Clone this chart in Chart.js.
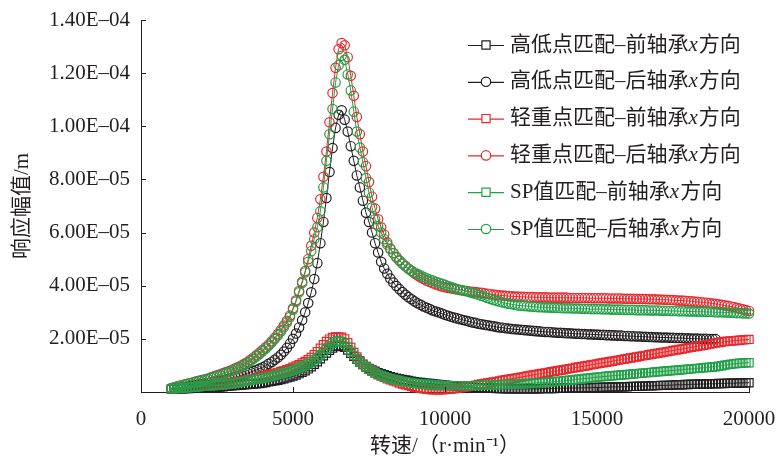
<!DOCTYPE html>
<html><head><meta charset="utf-8">
<script src="https://cdn.jsdelivr.net/npm/chart.js@4"></script>
<style>html,body{margin:0;padding:0;background:#fff;} canvas{display:block;}</style>
</head><body>
<div style="width:782px;height:461px"><canvas id="c" width="782" height="461"></canvas></div>
<script>
// rotating speed, r/min
const speeds = [
 1000,1100,1200,1300,1400,1500,1600,1700,1800,1900,
 2000,2100,2200,2300,2400,2500,2600,2700,2800,2900,
 3000,3100,3200,3300,3400,3500,3600,3700,3800,3900,
 4000,4100,4200,4300,4400,4500,4600,4700,4800,4900,
 5000,5100,5200,5300,5400,5500,5600,5700,5800,5900,
 6000,6100,6200,6300,6400,6500,6600,6700,6800,6900,
 7000,7100,7200,7300,7400,7500,7600,7700,7800,7900,
 8000,8100,8200,8300,8400,8500,8600,8700,8800,8900,
 9000,9100,9200,9300,9400,9500,9600,9700,9800,9900,
 10000,10100,10200,10300,10400,10500,10600,10700,10800,10900,
 11000,11100,11200,11300,11400,11500,11600,11700,11800,11900,
 12000,12100,12200,12300,12400,12500,12600,12700,12800,12900,
 13000,13100,13200,13300,13400,13500,13600,13700,13800,13900,
 14000,14100,14200,14300,14400,14500,14600,14700,14800,14900,
 15000,15100,15200,15300,15400,15500,15600,15700,15800,15900,
 16000,16100,16200,16300,16400,16500,16600,16700,16800,16900,
 17000,17100,17200,17300,17400,17500,17600,17700,17800,17900,
 18000,18100,18200,18300,18400,18500,18600,18700,18800,18900,
 19000,19100,19200,19300,19400,19500,19600,19700,19800,19900,
 20000];

// response amplitudes in micrometres (1e-6 m)
// 高低点匹配-前轴承x方向
const hlFront = [
 1.0,1.1,1.1,1.2,1.2,1.3,1.3,1.4,1.4,1.5,
 1.5,1.6,1.6,1.7,1.7,1.8,1.9,2.0,2.1,2.2,
 2.3,2.4,2.5,2.6,2.7,2.8,2.9,3.0,3.1,3.2,
 3.4,3.6,3.8,4.0,4.2,4.4,4.7,5.0,5.3,5.6,
 6.0,6.4,6.9,7.4,8.0,8.7,9.5,10.4,11.4,12.5,
 13.6,14.7,15.7,16.5,17.1,17.4,17.3,16.8,15.8,14.6,
 13.4,12.3,11.3,10.4,9.6,8.9,8.3,7.8,7.3,6.9,
 6.5,6.1,5.8,5.5,5.2,4.9,4.7,4.5,4.3,4.1,
 3.9,3.7,3.6,3.4,3.3,3.2,3.0,2.9,2.8,2.7,
 2.6,2.5,2.4,2.3,2.2,2.1,2.0,1.9,1.8,1.8,
 1.7,1.6,1.6,1.5,1.5,1.4,1.4,1.3,1.3,1.3,
 1.2,1.2,1.2,1.2,1.2,1.2,1.2,1.2,1.2,1.2,
 1.2,1.2,1.3,1.3,1.3,1.3,1.3,1.4,1.4,1.4,
 1.4,1.5,1.5,1.5,1.5,1.6,1.6,1.6,1.6,1.7,
 1.7,1.7,1.8,1.8,1.8,1.9,1.9,1.9,2.0,2.0,
 2.0,2.1,2.1,2.1,2.2,2.2,2.3,2.3,2.3,2.4,
 2.4,2.5,2.5,2.5,2.6,2.6,2.7,2.7,2.7,2.8,
 2.8,2.9,2.9,2.9,3.0,3.0,3.0,3.1,3.1,3.1,
 3.2,3.2,3.2,3.3,3.3,3.3,3.4,3.4,3.4,3.5,
 3.5];
// 高低点匹配-后轴承x方向
const hlRear = [
 1.3,1.4,1.5,1.7,1.9,2.0,2.2,2.4,2.6,2.8,
 3.0,3.2,3.4,3.6,3.8,4.0,4.2,4.4,4.7,5.0,
 5.3,5.6,5.9,6.3,6.7,7.1,7.5,7.9,8.3,8.8,
 9.3,9.9,10.6,11.3,12.1,13.0,14.0,15.2,16.6,18.2,
 20.0,22.0,24.3,27.0,30.0,33.5,37.5,42.5,48.5,56.0,
 64.0,73.0,82.8,91.8,99.4,104.3,106.0,102.5,98.0,92.5,
 87.0,81.5,77.0,72.0,67.5,64.0,60.0,56.0,52.5,49.0,
 46.5,44.5,42.7,41.2,39.9,38.7,37.6,36.6,35.7,34.9,
 34.1,33.4,32.8,32.2,31.7,31.2,30.7,30.3,29.9,29.5,
 29.1,28.7,28.3,28.0,27.7,27.4,27.1,26.8,26.5,26.2,
 26.0,25.7,25.5,25.3,25.1,24.9,24.7,24.5,24.3,24.2,
 24.0,23.9,23.7,23.6,23.5,23.4,23.3,23.2,23.1,23.0,
 22.9,22.8,22.7,22.6,22.6,22.5,22.4,22.3,22.3,22.2,
 22.1,22.1,22.0,21.9,21.9,21.8,21.8,21.7,21.7,21.6,
 21.6,21.5,21.5,21.4,21.4,21.3,21.3,21.2,21.2,21.1,
 21.1,21.0,21.0,20.9,20.9,20.8,20.8,20.7,20.7,20.6,
 20.6,20.5,20.5,20.5,20.4,20.4,20.3,20.3,20.3,20.2,
 20.2,20.1,20.1,20.1,20.0,20.0,20.0,19.9,19.9,19.9,
 null,null,null,null,null,null,null,null,null,null,
 null];
// 轻重点匹配-前轴承x方向
const lhFront = [
 1.2,1.3,1.4,1.5,1.6,1.7,1.8,1.9,2.0,2.1,
 2.2,2.3,2.4,2.5,2.6,2.7,2.8,3.0,3.2,3.4,
 3.6,3.8,4.0,4.2,4.4,4.6,4.8,5.0,5.3,5.6,
 5.9,6.2,6.5,6.8,7.1,7.4,7.7,8.0,8.4,8.8,
 9.3,9.8,10.3,10.9,11.5,12.2,13.0,14.0,15.2,16.5,
 17.8,19.0,19.9,20.5,20.7,20.7,20.6,20.0,18.6,16.8,
 14.9,13.2,11.8,10.5,9.5,8.6,7.8,7.1,6.5,6.0,
 5.5,5.0,4.6,4.2,3.8,3.4,3.0,2.7,2.4,2.1,
 1.8,1.6,1.4,1.2,1.0,0.9,0.8,0.8,0.8,0.8,
 0.9,1.0,1.1,1.2,1.4,1.6,1.8,2.0,2.2,2.4,
 2.6,2.8,3.0,3.2,3.4,3.6,3.8,4.0,4.2,4.4,
 4.6,4.8,5.0,5.2,5.4,5.6,5.8,6.0,6.2,6.4,
 6.6,6.8,7.0,7.2,7.4,7.6,7.8,8.0,8.2,8.4,
 8.6,8.8,9.0,9.2,9.4,9.6,9.8,10.0,10.2,10.4,
 10.6,10.8,11.0,11.2,11.4,11.6,11.8,12.0,12.2,12.4,
 12.6,12.8,13.0,13.2,13.4,13.6,13.8,14.0,14.2,14.4,
 14.6,14.8,15.0,15.2,15.4,15.6,15.8,16.0,16.2,16.4,
 16.6,16.8,17.0,17.2,17.4,17.6,17.8,18.0,18.2,18.4,
 18.6,18.8,19.0,19.1,19.2,19.3,19.4,19.5,19.6,19.7,
 19.8];
// 轻重点匹配-后轴承x方向
const lhRear = [
 1.5,1.8,2.1,2.4,2.7,3.0,3.3,3.6,3.9,4.2,
 4.5,4.8,5.1,5.5,5.9,6.3,6.7,7.1,7.5,7.9,
 8.4,8.9,9.4,10.0,10.6,11.3,12.1,13.0,13.9,14.8,
 15.8,16.8,17.9,19.1,20.4,21.8,23.3,25.0,26.8,28.8,
 31.5,34.5,38.0,41.5,45.5,50.0,55.0,60.0,65.5,72.5,
 81.0,90.5,101.5,112.5,122.0,129.0,131.3,130.5,126.0,119.0,
 111.5,103.5,97.0,90.5,85.0,79.0,73.5,69.0,65.0,62.0,
 59.3,56.3,54.0,52.3,50.9,49.6,48.4,47.4,46.4,45.5,
 44.6,43.8,43.1,42.5,41.9,41.4,40.9,40.5,40.1,39.7,
 39.4,39.2,39.0,38.8,38.6,38.4,38.2,38.0,37.8,37.7,
 37.6,37.4,37.3,37.1,37.0,36.8,36.7,36.5,36.4,36.3,
 36.2,36.1,36.0,35.9,35.9,35.8,35.8,35.7,35.7,35.7,
 35.6,35.6,35.6,35.6,35.5,35.5,35.5,35.5,35.5,35.5,
 35.5,35.4,35.4,35.4,35.4,35.4,35.4,35.4,35.3,35.3,
 35.3,35.3,35.3,35.3,35.2,35.2,35.2,35.2,35.2,35.1,
 35.1,35.1,35.1,35.0,35.0,35.0,35.0,34.9,34.9,34.9,
 34.8,34.8,34.7,34.7,34.6,34.6,34.5,34.4,34.4,34.3,
 34.2,34.1,34.0,33.9,33.8,33.7,33.6,33.5,33.3,33.2,
 33.0,32.8,32.6,32.4,32.2,32.0,31.7,31.4,31.1,30.8,
 30.5];
// SP值匹配-前轴承x方向
const spFront = [
 1.1,1.2,1.3,1.4,1.5,1.6,1.7,1.8,1.9,2.0,
 2.1,2.2,2.3,2.4,2.5,2.6,2.7,2.8,2.9,3.0,
 3.2,3.4,3.6,3.8,4.0,4.2,4.4,4.6,4.8,5.0,
 5.2,5.4,5.6,5.9,6.2,6.5,6.8,7.1,7.4,7.8,
 8.2,8.6,9.0,9.5,10.0,10.6,11.3,12.1,13.0,14.0,
 15.1,16.3,17.4,18.3,18.9,19.2,19.0,18.3,17.0,15.4,
 13.8,12.4,11.2,10.2,9.3,8.5,7.8,7.2,6.7,6.2,
 5.8,5.4,5.1,4.8,4.5,4.3,4.1,3.9,3.7,3.5,
 3.3,3.2,3.1,3.0,2.9,2.8,2.7,2.6,2.6,2.5,
 2.5,2.4,2.4,2.4,2.4,2.4,2.4,2.4,2.4,2.4,
 2.4,2.4,2.5,2.5,2.5,2.6,2.6,2.7,2.7,2.8,
 2.8,2.9,2.9,3.0,3.0,3.1,3.1,3.2,3.2,3.3,
 3.4,3.5,3.5,3.6,3.7,3.8,3.9,4.0,4.1,4.2,
 4.3,4.4,4.5,4.7,4.8,4.9,5.1,5.2,5.3,5.5,
 5.6,5.7,5.8,5.9,6.0,6.1,6.2,6.3,6.4,6.5,
 6.6,6.7,6.8,6.9,7.0,7.1,7.2,7.3,7.4,7.5,
 7.6,7.7,7.8,7.9,8.0,8.1,8.2,8.3,8.4,8.5,
 8.6,8.7,8.8,8.9,9.0,9.1,9.2,9.3,9.4,9.5,
 9.7,9.9,10.1,10.3,10.5,10.6,10.7,10.8,10.9,11.0,
 11.0];
// SP值匹配-后轴承x方向
const spRear = [
 1.5,1.8,2.1,2.4,2.7,3.0,3.3,3.6,3.8,4.0,
 4.3,4.6,4.9,5.3,5.6,6.0,6.4,6.8,7.2,7.6,
 8.0,8.5,9.0,9.6,10.2,10.8,11.6,12.5,13.4,14.3,
 15.3,16.3,17.4,18.6,19.9,21.3,22.8,24.4,26.2,28.2,
 31.0,34.0,37.5,41.0,45.0,49.0,53.0,57.5,62.0,68.0,
 77.0,87.0,97.0,106.5,116.5,123.0,126.5,125.0,119.5,113.5,
 105.5,98.0,92.0,86.5,80.5,75.0,69.5,65.0,62.5,60.0,
 57.5,55.5,53.8,52.2,50.6,49.4,48.3,47.3,46.4,45.6,
 45.0,44.4,43.9,43.3,42.8,42.3,41.9,41.5,41.1,40.7,
 40.3,39.9,39.5,39.1,38.7,38.4,38.2,37.9,37.6,37.3,
 37.0,36.6,36.2,35.8,35.4,35.0,34.6,34.3,34.0,33.7,
 33.4,33.2,33.0,32.8,32.6,32.5,32.4,32.3,32.2,32.1,
 32.0,31.9,31.9,31.8,31.8,31.7,31.7,31.6,31.6,31.5,
 31.5,31.5,31.4,31.4,31.4,31.3,31.3,31.3,31.2,31.2,
 31.2,31.2,31.1,31.1,31.1,31.0,31.0,31.0,31.0,30.9,
 30.9,30.9,30.9,30.8,30.8,30.8,30.8,30.7,30.7,30.7,
 30.7,30.6,30.6,30.6,30.5,30.5,30.5,30.4,30.4,30.4,
 30.3,30.3,30.3,30.2,30.2,30.2,30.1,30.1,30.1,30.0,
 30.0,30.0,29.9,29.9,29.8,29.8,29.7,29.7,29.6,29.6,
 29.5];

const seriesLabels = [
 '高低点匹配–前轴承x方向','高低点匹配–后轴承x方向',
 '轻重点匹配–前轴承x方向','轻重点匹配–后轴承x方向',
 'SP值匹配–前轴承x方向','SP值匹配–后轴承x方向'];
const xTickValues = [0,5000,10000,15000,20000];
const xTickLabels = ['0','5000','10000','15000','20000'];
const yTickValues = [0,2e-5,4e-5,6e-5,8e-5,1e-4,1.2e-4,1.4e-4];
const yTickLabels = ['','2.00E–05','4.00E–05','6.00E–05','8.00E–05','1.00E–04','1.20E–04','1.40E–04'];
const xTitle = '转速/（r·min⁻¹）';
const yTitle = '响应幅值/m';

const BLACK = '#231f20', RED = '#e8282d', GREEN = '#20a048';
const TXT = '#231f20';
const SERIF = '"Liberation Serif","Times New Roman","Noto Sans CJK SC",serif';
const MIXED = '"Liberation Serif","Noto Sans CJK SC",serif';

const seriesValues = [hlFront, hlRear, lhFront, lhRear, spFront, spRear];
const seriesColors = [BLACK, BLACK, RED, RED, GREEN, GREEN];
const seriesStyles = ['rect','circle','rect','circle','rect','circle'];
const seriesOrder = [2,2,1,1,0,0];

const datasets = seriesValues.map((vals, k) => ({
  label: seriesLabels[k],
  data: speeds.map((s, i) => ({x: s, y: vals[i] == null ? null : vals[i] * 1e-6})),
  borderColor: seriesColors[k],
  backgroundColor: 'rgba(0,0,0,0)',
  pointBackgroundColor: 'rgba(0,0,0,0)',
  pointBorderColor: seriesColors[k],
  pointStyle: seriesStyles[k],
  pointRadius: seriesStyles[k] === 'rect' ? 5.8 : 4.7,
  pointBorderWidth: 1.2,
  borderWidth: 1,
  showLine: true,
  spanGaps: false,
  tension: 0,
  clip: false,
  order: seriesOrder[k]
}));

const inwardTicks = {
  id: 'inwardTicks',
  afterDraw(chart) {
    const {ctx, chartArea: a, scales: {x, y}} = chart;
    ctx.save();
    ctx.strokeStyle = BLACK; ctx.lineWidth = 1;
    ctx.beginPath();
    x.ticks.forEach(t => {
      if (t.value === 0) return;
      const px = Math.round(x.getPixelForValue(t.value)) + 0.5;
      ctx.moveTo(px, a.bottom); ctx.lineTo(px, a.bottom - 5);
    });
    y.ticks.forEach(t => {
      if (t.value === 0) return;
      const py = Math.round(y.getPixelForValue(t.value)) + 0.5;
      ctx.moveTo(a.left, py); ctx.lineTo(a.left + 5, py);
    });
    ctx.stroke(); ctx.restore();
  }
};

const LEG = {x: 468, y: 45, gap: 36.8, len: 36, textX: 510, size: 21};
const inlineLegend = {
  id: 'inlineLegend',
  afterDraw(chart) {
    const ctx = chart.ctx;
    chart.data.datasets.forEach((ds, i) => {
      const y = LEG.y + i * LEG.gap;
      ctx.save();
      ctx.strokeStyle = ds.borderColor; ctx.lineWidth = 1.2;
      ctx.beginPath(); ctx.moveTo(LEG.x, y + 0.5); ctx.lineTo(LEG.x + LEG.len, y + 0.5); ctx.stroke();
      const cx = LEG.x + LEG.len / 2;
      ctx.fillStyle = '#fff';
      ctx.beginPath();
      if (ds.pointStyle === 'rect') {
        const s = ds.pointRadius * Math.SQRT1_2;
        ctx.rect(cx - s, y - s, 2 * s, 2 * s);
      } else {
        ctx.arc(cx, y, ds.pointRadius, 0, Math.PI * 2);
      }
      ctx.fill(); ctx.stroke();
      const parts = ds.label.split('x');
      ctx.fillStyle = TXT; ctx.textBaseline = 'middle'; ctx.textAlign = 'left';
      let tx = LEG.textX;
      ctx.font = LEG.size + 'px ' + MIXED;
      ctx.fillText(parts[0], tx, y); tx += ctx.measureText(parts[0]).width;
      ctx.font = 'italic ' + LEG.size + 'px ' + SERIF;
      ctx.fillText('x', tx, y); tx += ctx.measureText('x').width + 1;
      ctx.font = LEG.size + 'px ' + MIXED;
      ctx.fillText(parts[1], tx, y);
      ctx.restore();
    });
  }
};

new Chart(document.getElementById('c'), {
  type: 'line',
  data: {datasets},
  plugins: [inwardTicks, inlineLegend],
  options: {
    responsive: false,
    devicePixelRatio: 1,
    animation: false,
    layout: {padding: {top: 20, right: 33, left: 0, bottom: 0}},
    plugins: {legend: {display: false}, tooltip: {enabled: false}},
    scales: {
      x: {
        type: 'linear', min: 0, max: 20000,
        afterBuildTicks: s => { s.ticks = xTickValues.map(v => ({value: v})); },
        afterFit: s => { s.height = 69; s.paddingRight = 0; s.paddingLeft = 0; },
        grid: {display: false, drawTicks: false},
        border: {display: true, color: BLACK, width: 1},
        ticks: {padding: 15, color: TXT, font: {family: SERIF, size: 21},
                maxRotation: 0, autoSkip: false,
                callback: (v, i) => xTickLabels[i]},
        title: {display: true, text: xTitle, color: TXT,
                font: {family: MIXED, size: 21}, padding: {top: 0, bottom: 2}}
      },
      y: {
        type: 'linear', min: 0, max: 1.4e-4,
        afterBuildTicks: s => { s.ticks = yTickValues.map(v => ({value: v})); },
        afterFit: s => { s.width = 141; s.paddingTop = 0; s.paddingBottom = 0; },
        grid: {display: false, drawTicks: false},
        border: {display: true, color: BLACK, width: 1},
        ticks: {padding: 11, color: TXT, font: {family: SERIF, size: 21},
                autoSkip: false,
                callback: (v, i) => yTickLabels[i]},
        title: {display: true, text: yTitle, color: TXT,
                font: {family: MIXED, size: 21}, padding: {top: 10, bottom: 0}}
      }
    }
  }
});
</script>
</body></html>
